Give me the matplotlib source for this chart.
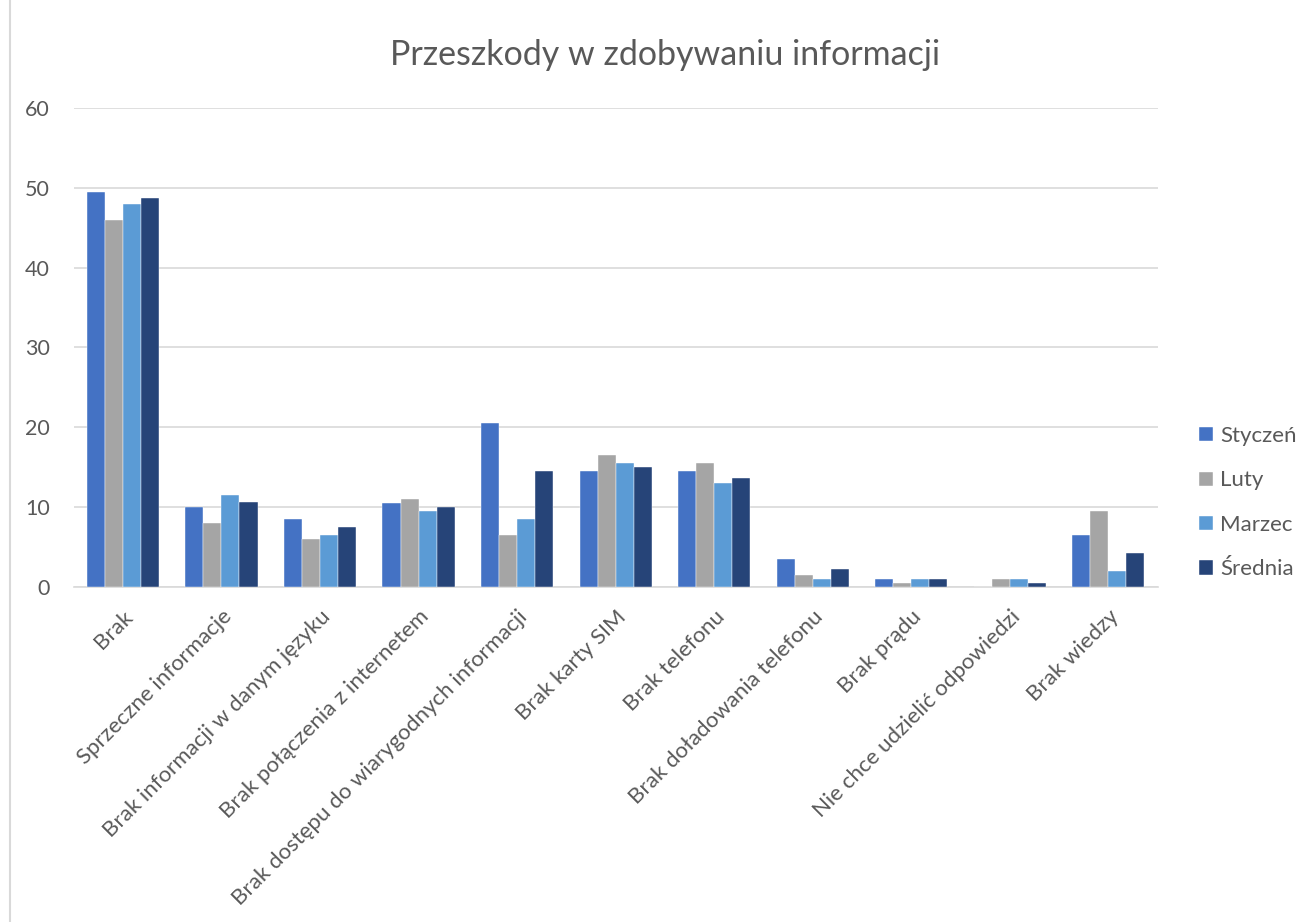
import matplotlib.pyplot as plt
import numpy as np
from matplotlib.lines import Line2D

plt.rcParams['font.family'] = ['Lato', 'DejaVu Sans']

categories = ["Brak", "Sprzeczne informacje", "Brak informacji w danym języku",
              "Brak połączenia z internetem", "Brak dostępu do wiarygodnych informacji",
              "Brak karty SIM", "Brak telefonu", "Brak doładowania telefonu",
              "Brak prądu", "Nie chce udzielić odpowiedzi", "Brak wiedzy"]

styczen = [49.5, 10, 8.5, 10.5, 20.5, 14.5, 14.5, 3.5, 1, 0, 6.5]
luty = [46, 8, 6, 11, 6.5, 16.5, 15.5, 1.5, 0.5, 1, 9.5]
marzec = [48, 11.5, 6.5, 9.5, 8.5, 15.5, 13, 1, 1, 1, 2]
srednia = [48.7, 10.7, 7.5, 10, 14.5, 15, 13.7, 2.2, 1, 0.5, 4.2]

series = [("Styczeń", styczen, "#4472C4"),
          ("Luty", luty, "#A5A5A5"),
          ("Marzec", marzec, "#5B9BD5"),
          ("Średnia", srednia, "#264478")]

text_col = "#595959"

fig = plt.figure(figsize=(13.01, 9.22), dpi=100)
# chart frame edge on the left
fig.lines.append(Line2D([0.0077, 0.0077], [0, 1], transform=fig.transFigure,
                        color="#d9d9d9", linewidth=1.5))
ax = fig.add_axes([0.0566, 0.3634, 0.8332, 0.5195])

x = np.arange(len(categories))
w = 0.183
for i, (name, vals, col) in enumerate(series):
    ax.bar(x + (i - 1.5) * w, vals, w, color=col, label=name,
           edgecolor="white", linewidth=0.3, zorder=3)

ax.set_xlim(-0.5, len(categories) - 0.5)
ax.set_ylim(0, 60)
ax.set_yticks(range(0, 61, 10))
ax.yaxis.grid(color="#d9d9d9", linewidth=1.2, zorder=0)
for s in ["top", "right", "left"]:
    ax.spines[s].set_visible(False)
ax.spines["bottom"].set_color("#d9d9d9")
ax.spines["bottom"].set_linewidth(1.2)
ax.tick_params(axis="both", length=0, labelsize=15.5, colors=text_col)
ax.tick_params(axis="y", pad=17)
ax.tick_params(axis="x", labelsize=16, pad=14)

ax.set_xticks(x)
ax.set_xticklabels(categories, rotation=45, ha="right", rotation_mode="anchor")

fig.text(0.511, 1 - 55 / 922, "Przeszkody w zdobywaniu informacji",
         fontsize=24.5, color=text_col, ha="center", va="center")

leg = ax.legend(loc="center left", bbox_to_anchor=(1.02, 0.176), frameon=False,
                fontsize=16, labelcolor=text_col, handlelength=0.6, handleheight=0.6,
                labelspacing=1.1, handletextpad=0.35)

fig.savefig("out.png", dpi=100)
